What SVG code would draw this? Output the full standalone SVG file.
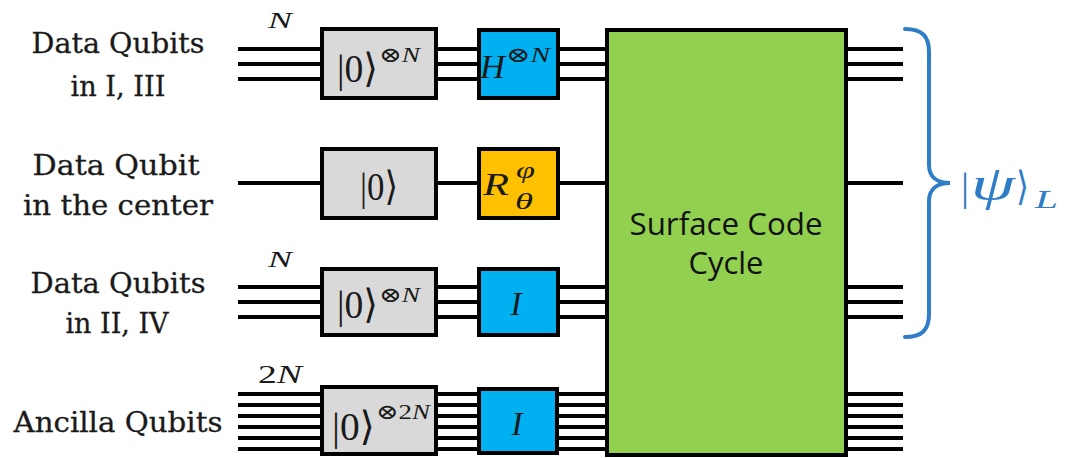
<svg xmlns="http://www.w3.org/2000/svg" width="1069" height="458" viewBox="0 0 1069 458">
<style>
.bg{fill:#ffffff}
.wire{stroke:#000;stroke-width:4;fill:none}
.box{stroke:#000;stroke-width:4}
.gray{fill:#d9d9d9}
.blue{fill:#00b0f0}
.orange{fill:#ffc000}
.green{fill:#92d050}
.lbl{font-family:"DejaVu Serif","Liberation Serif",serif;font-size:28px;fill:#1a1a1a;stroke:#1a1a1a;stroke-width:0.3;text-anchor:middle}
.sans{font-family:"Open Sans","Noto Sans",sans-serif;font-size:31px;fill:#111;text-anchor:middle}
.m{font-family:"Liberation Serif","DejaVu Serif",serif;fill:#1a1a1a}
.mi{font-family:"Liberation Serif","DejaVu Serif",serif;font-style:italic;fill:#1a1a1a}
.brace{stroke:#2e7dc6;stroke-width:4;fill:none;stroke-linecap:round}
.psi{font-family:"Liberation Serif","DejaVu Serif",serif;fill:#2e7dc6}
</style>
<rect class="bg" x="0" y="0" width="1069" height="458"/>
<g id="connectors">
<line class="wire" x1="238" y1="49" x2="903" y2="49"/>
<line class="wire" x1="238" y1="64" x2="903" y2="64"/>
<line class="wire" x1="238" y1="79" x2="903" y2="79"/>
<line class="wire" x1="238" y1="183" x2="903" y2="183"/>
<line class="wire" x1="238" y1="287" x2="903" y2="287"/>
<line class="wire" x1="238" y1="302" x2="903" y2="302"/>
<line class="wire" x1="238" y1="317" x2="903" y2="317"/>
<line class="wire" x1="238" y1="394" x2="903" y2="394"/>
<line class="wire" x1="238" y1="405" x2="903" y2="405"/>
<line class="wire" x1="238" y1="416" x2="903" y2="416"/>
<line class="wire" x1="238" y1="427" x2="903" y2="427"/>
<line class="wire" x1="238" y1="438" x2="903" y2="438"/>
<line class="wire" x1="238" y1="449" x2="903" y2="449"/>
</g>
<g id="label-data13">
<text class="lbl" x="118" y="53" textLength="173" lengthAdjust="spacingAndGlyphs">Data Qubits</text>
<text class="lbl" x="118" y="96" textLength="95" lengthAdjust="spacingAndGlyphs">in I, III</text>
</g>
<g id="label-center">
<text class="lbl" x="116" y="175" textLength="167" lengthAdjust="spacingAndGlyphs">Data Qubit</text>
<text class="lbl" x="118" y="215" textLength="190" lengthAdjust="spacingAndGlyphs">in the center</text>
</g>
<g id="label-data24">
<text class="lbl" x="118" y="293" textLength="175" lengthAdjust="spacingAndGlyphs">Data Qubits</text>
<text class="lbl" x="117" y="333" textLength="103" lengthAdjust="spacingAndGlyphs">in II, IV</text>
</g>
<g id="label-ancilla">
<text class="lbl" x="118" y="432" textLength="209" lengthAdjust="spacingAndGlyphs">Ancilla Qubits</text>
</g>
<g id="count-n1"><text class="mi" x="268" y="28" font-size="23" textLength="24" lengthAdjust="spacingAndGlyphs">N</text></g>
<g id="count-n2"><text class="mi" x="268" y="267" font-size="23" textLength="24" lengthAdjust="spacingAndGlyphs">N</text></g>
<g id="count-2n"><text class="m" x="258" y="383" font-size="25" textLength="44" lengthAdjust="spacingAndGlyphs">2<tspan font-style="italic">N</tspan></text></g>
<g id="init1">
<rect class="box gray" x="322" y="29" width="114" height="69"/>
<text class="m" x="337" y="82" font-size="40" textLength="41" lengthAdjust="spacingAndGlyphs">|0⟩</text>
<text class="m" x="379" y="62" font-size="21" textLength="41" lengthAdjust="spacingAndGlyphs">⊗<tspan font-style="italic">N</tspan></text>
</g>
<g id="hadamard">
<rect class="box blue" x="479" y="30" width="79" height="68"/>
<text class="mi" x="480" y="78" font-size="34" textLength="25" lengthAdjust="spacingAndGlyphs">H</text>
<text class="m" x="506" y="62" font-size="21" textLength="44" lengthAdjust="spacingAndGlyphs">⊗<tspan font-style="italic">N</tspan></text>
</g>
<g id="init-center">
<rect class="box gray" x="322" y="149" width="114" height="69"/>
<text class="m" x="360" y="200" font-size="40" textLength="38" lengthAdjust="spacingAndGlyphs">|0⟩</text>
</g>
<g id="rotation">
<rect class="box orange" x="479" y="149" width="79" height="69"/>
<text class="mi" x="483" y="195" font-size="32" textLength="26" lengthAdjust="spacingAndGlyphs">R</text>
<text class="mi" x="516" y="178" font-size="24" textLength="19" lengthAdjust="spacingAndGlyphs">φ</text>
<text class="mi" x="515" y="209" font-size="24" textLength="18" lengthAdjust="spacingAndGlyphs">θ</text>
</g>
<g id="init2">
<rect class="box gray" x="322" y="269" width="114" height="66"/>
<text class="m" x="337" y="318" font-size="40" textLength="41" lengthAdjust="spacingAndGlyphs">|0⟩</text>
<text class="m" x="379" y="302" font-size="21" textLength="41" lengthAdjust="spacingAndGlyphs">⊗<tspan font-style="italic">N</tspan></text>
</g>
<g id="identity1">
<rect class="box blue" x="479" y="269" width="79" height="66"/>
<text class="mi" x="516" y="315" font-size="33" text-anchor="middle">I</text>
</g>
<g id="init-ancilla">
<rect class="box gray" x="322" y="387" width="114" height="67"/>
<text class="m" x="332" y="440" font-size="40" textLength="43" lengthAdjust="spacingAndGlyphs">|0⟩</text>
<text class="m" x="376" y="419" font-size="21" textLength="54" lengthAdjust="spacingAndGlyphs">⊗2<tspan font-style="italic">N</tspan></text>
</g>
<g id="identity2">
<rect class="box blue" x="479" y="389" width="78" height="64"/>
<text class="mi" x="517" y="435" font-size="33" text-anchor="middle">I</text>
</g>
<g id="surface-code">
<rect class="box green" x="607" y="30" width="239" height="425"/>
<text class="sans" x="726" y="235" textLength="193" lengthAdjust="spacingAndGlyphs">Surface Code</text>
<text class="sans" x="726" y="274" textLength="75" lengthAdjust="spacingAndGlyphs">Cycle</text>
</g>
<g id="logical-state">
<path class="brace" d="M905,29 C922,29 929,36 929,52 L929,165 C929,176 936,183 950,183 C936,183 929,190 929,201 L929,314 C929,330 922,337 905,337"/>
<text class="psi" x="961" y="200" font-size="40">|</text>
<text class="psi" x="971" y="200" font-size="48" font-style="italic" textLength="44" lengthAdjust="spacingAndGlyphs">ψ</text>
<text class="psi" x="1016" y="200" font-size="40" textLength="13" lengthAdjust="spacingAndGlyphs">⟩</text>
<text class="psi" x="1035" y="208" font-size="25" font-style="italic" textLength="23" lengthAdjust="spacingAndGlyphs">L</text>
</g>
</svg>
